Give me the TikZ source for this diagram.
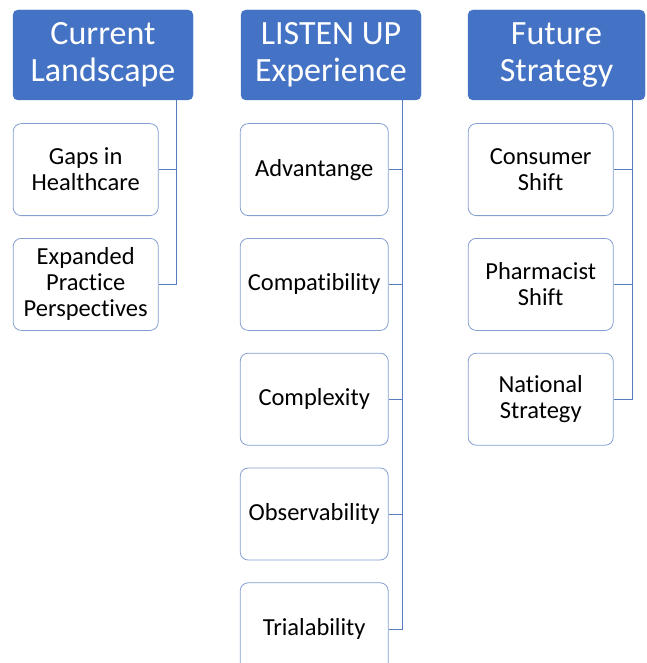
\documentclass[tikz,border=0pt]{standalone}
\usepackage{fontspec}
\setmainfont{Carlito}[Ligatures=NoCommon]
\usetikzlibrary{positioning}
\definecolor{hdrblue}{RGB}{68,114,196}
\definecolor{boxline}{RGB}{132,158,210}
\definecolor{linkline}{RGB}{90,124,192}

\begin{document}
\begin{tikzpicture}
    [
        x=1pt, y=1pt,
        header/.style = {
            rectangle, rounded corners=5pt, fill=hdrblue, draw=hdrblue,
            minimum width=180pt, minimum height=90pt, text=white,
            align=center, font=\fontsize{34}{37}\selectfont, inner sep=0pt
            },
        item/.style = {
            rectangle, rounded corners=8pt, fill=white, draw=boxline, thick,
            minimum height=92pt, align=center,
            font=\fontsize{24.5}{26}\selectfont, inner sep=0pt
            },
        link/.style = {
            draw=linkline, semithick
            },
        node distance=22pt,
    ]
    \useasboundingbox (0,0) rectangle (646,-663);
    %headers
    \node[header] (current) at (103,-55) {Current\\Landscape};
    \node[header] (listen) at (331,-55) {LISTEN UP\\Experience};
    \node[header, minimum width=177pt] (future) at (556.5,-55) {Future\\Strategy};
    %first column
    \node[item, minimum width=145pt] (gaps) [below right=23pt and 0pt of current.south west] {Gaps in\\Healthcare};
    \node[item, minimum width=145pt] (expanded) [below=of gaps] {Expanded\\Practice\\Perspectives};
    %second column
    \node[item, minimum width=148pt] (advantage) [below right=23pt and -1pt of listen.south west] {Advantange};
    \node[item, minimum width=148pt] (compat) [below=of advantage] {Compatibility};
    \node[item, minimum width=148pt] (complex) [below=of compat] {Complexity};
    \node[item, minimum width=148pt] (observ) [below=of complex] {Observability};
    \node[item, minimum width=148pt] (trial) [below=of observ] {Trialability};
    %third column
    \node[item, minimum width=145pt] (consumer) [below right=23pt and 0pt of future.south west] {Consumer\\Shift};
    \node[item, minimum width=145pt] (pharm) [below=of consumer] {Pharmacist\\Shift};
    \node[item, minimum width=145pt] (national) [below=of pharm] {National\\Strategy};
    %connecting nodes
    \coordinate (trunk1) at ([xshift=-17pt]current.south east);
    \coordinate (trunk2) at ([xshift=-19pt]listen.south east);
    \coordinate (trunk3) at ([xshift=-13pt]future.south east);
    \draw[link] (trunk1) |- (gaps.east);
    \draw[link] (trunk1) |- (expanded.east);
    \foreach \child in {advantage, compat, complex, observ, trial}
        \draw[link] (trunk2) |- (\child.east);
    \foreach \child in {consumer, pharm, national}
        \draw[link] (trunk3) |- (\child.east);

\end{tikzpicture}
\end{document}
